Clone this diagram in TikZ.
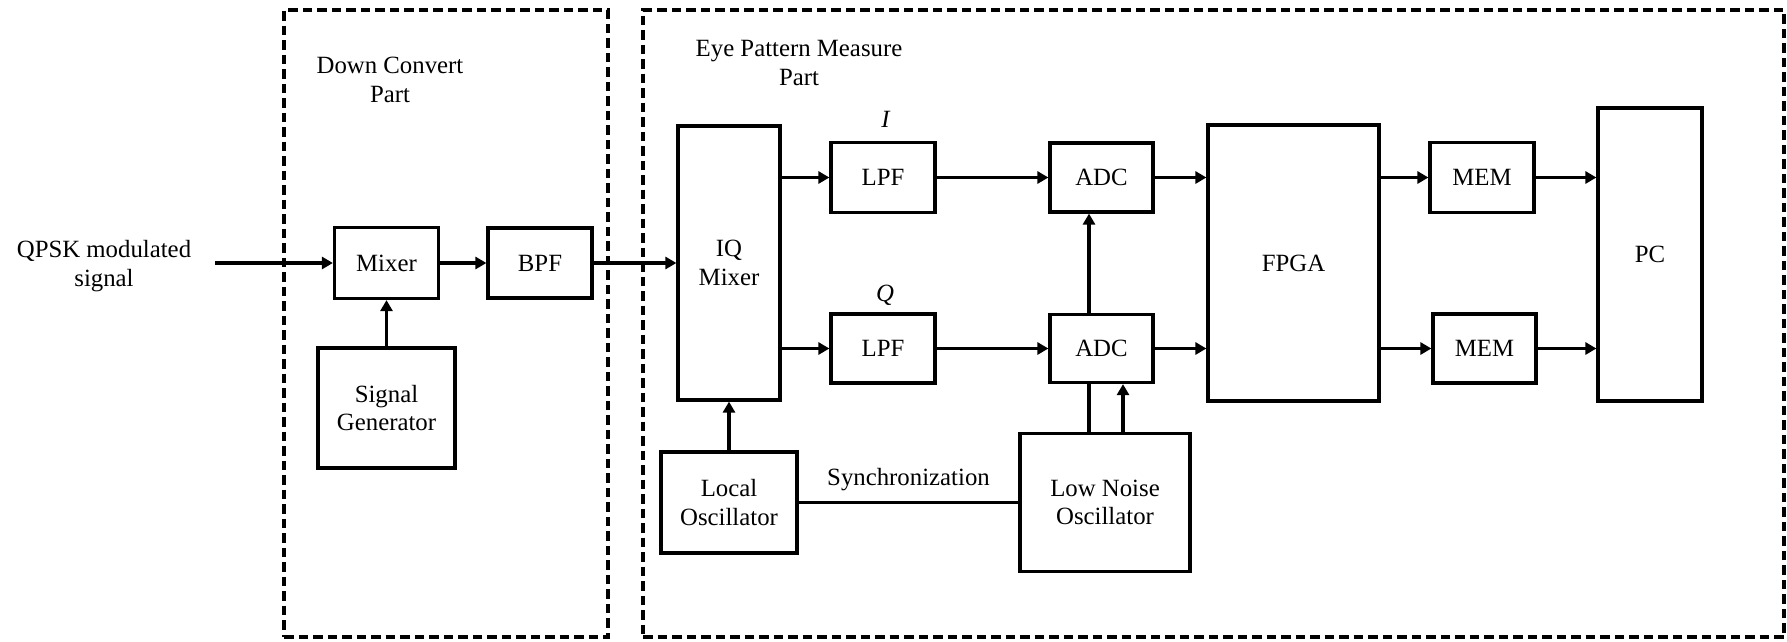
\documentclass[tikz,border=0pt]{standalone}
\usepackage{fontspec}
\setmainfont{Liberation Serif}
\usetikzlibrary{arrows.meta}
\begin{document}
\begin{tikzpicture}[x=1pt,y=-1pt,
  every node/.style={font=\fontsize{24.8}{28.5}\selectfont},
  blk/.style={draw, line width=3.2pt, inner sep=0pt, align=center},
  conn/.style={line width=3.2pt, -{Triangle[length=11pt,width=12pt]}},
  plainline/.style={line width=3.2pt},
  syncline/.style={line width=2.8pt},
  partbox/.style={draw, line width=3.2pt, dash pattern=on 9.5pt off 5pt, inner sep=0pt},
]
\useasboundingbox (0,0) rectangle (1787,641);
% dashed part frames
\node[partbox, minimum width=324pt, minimum height=627pt] (dcpart) at (446,323.5) {};
\node[partbox, minimum width=1141pt, minimum height=627pt] (eppart) at (1213.5,323.5) {};
% labels
\node[align=center] (qpsk) at (104,266) {QPSK modulated\\signal};
\node[align=center] (dct) at (390,80) {Down Convert\\Part};
\node[align=center] (ept) at (799,63) {Eye Pattern Measure\\Part};
\node[anchor=base] (ilab) at (886,127) {\textit{I}};
\node[anchor=base] (qlab) at (885,301) {\textit{Q}};
% blocks
\node[blk, minimum width=104pt, minimum height=71pt] (mixer) at (386.5,263) {Mixer};
\node[blk, minimum width=104pt, minimum height=70pt] (bpf) at (540,263) {BPF};
\node[blk, minimum width=137pt, minimum height=120pt] (sg) at (386.5,408) {Signal\\Generator};
\node[blk, minimum width=102pt, minimum height=274pt] (iq) at (729,263) {IQ\\Mixer};
\node[blk, minimum width=104pt, minimum height=70pt] (lpf1) at (883,177.5) {LPF};
\node[blk, minimum width=104pt, minimum height=69pt] (lpf2) at (883,348.5) {LPF};
\node[blk, minimum width=103pt, minimum height=69pt] (adc1) at (1101.5,177.5) {ADC};
\node[blk, minimum width=103pt, minimum height=68pt] (adc2) at (1101.5,348.5) {ADC};
\node[blk, minimum width=171pt, minimum height=276pt] (fpga) at (1293.5,263) {FPGA};
\node[blk, minimum width=104pt, minimum height=70pt] (mem1) at (1482,177.5) {MEM};
\node[blk, minimum width=103pt, minimum height=69pt] (mem2) at (1484.5,348.5) {MEM};
\node[blk, minimum width=104pt, minimum height=293pt] (pc) at (1650,254.5) {PC};
\node[blk, minimum width=136pt, minimum height=101pt] (lo) at (729,502.5) {Local\\Oscillator};
\node[blk, minimum width=170pt, minimum height=138pt] (lno) at (1105,502.5) {Low Noise\\Oscillator};
% connectors
\coordinate (qin) at (215,263);
\draw[conn] (qin) -- (mixer.west);
\draw[conn] (mixer.east) -- (bpf.west);
\draw[conn] (bpf.east) -- (iq.west);
\draw[conn] (sg.north) -- (mixer.south);
\draw[conn] (iq.east |- lpf1.west) -- (lpf1.west);
\draw[conn] (iq.east |- lpf2.west) -- (lpf2.west);
\draw[conn] (lpf1.east) -- (adc1.west);
\draw[conn] (lpf2.east) -- (adc2.west);
\draw[conn] (adc1.east) -- (fpga.west |- adc1.east);
\draw[conn] (adc2.east) -- (fpga.west |- adc2.east);
\draw[conn] (fpga.east |- mem1.west) -- (mem1.west);
\draw[conn] (fpga.east |- mem2.west) -- (mem2.west);
\draw[conn] (mem1.east) -- (pc.west |- mem1.east);
\draw[conn] (mem2.east) -- (pc.west |- mem2.east);
\draw[conn] (lo.north) -- (iq.south);
\draw[syncline] (lo.east) -- (lno.west |- lo.east)
  node[midway, above=10.5pt, inner sep=0pt] (synclab) {Synchronization};
\draw[plainline] ([xshift=-12.5pt]adc2.south) -- ([xshift=-12.5pt]adc2.south |- lno.north);
\draw[conn] ([xshift=-12.5pt]adc2.north) -- ([xshift=-12.5pt]adc1.south);
\draw[conn] ([xshift=21.5pt]adc2.south |- lno.north) -- ([xshift=21.5pt]adc2.south);
\end{tikzpicture}
\end{document}
